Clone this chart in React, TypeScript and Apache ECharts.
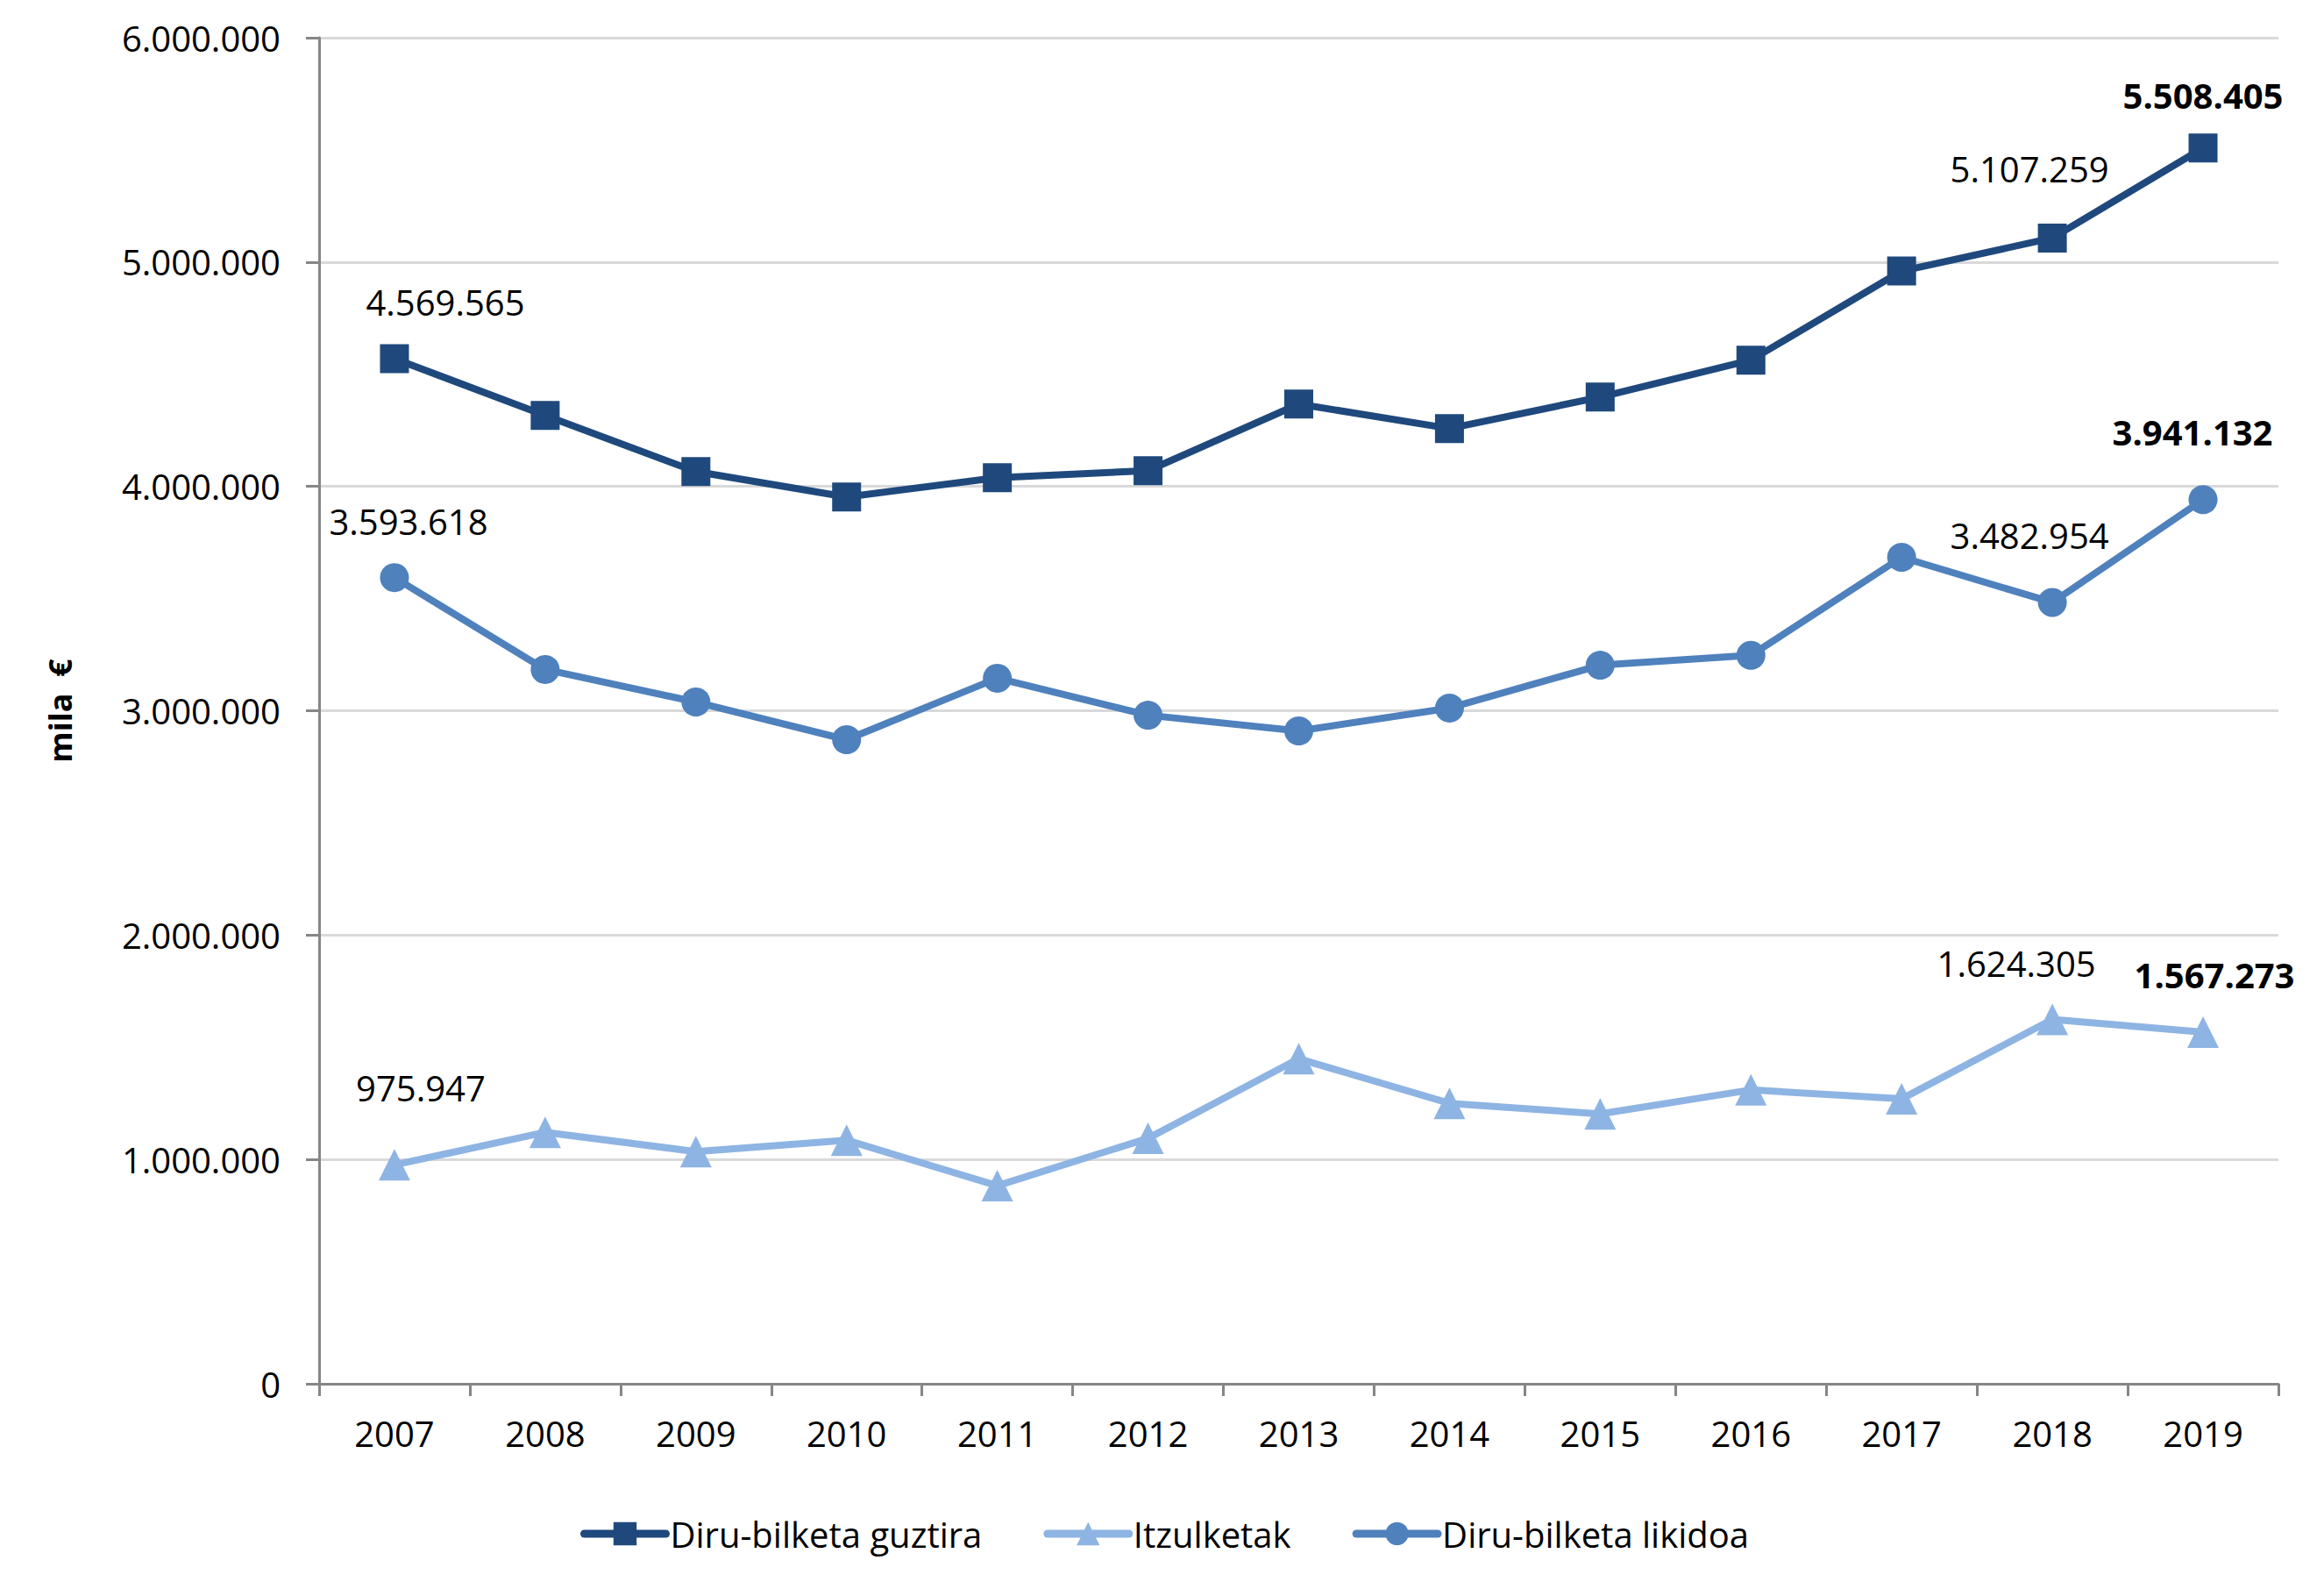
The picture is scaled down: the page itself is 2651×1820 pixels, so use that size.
import React, { useEffect, useRef } from "react";
import * as echarts from "echarts";

const years = ["2007", "2008", "2009", "2010", "2011", "2012", "2013", "2014", "2015", "2016", "2017", "2018", "2019"];
const guztira = [4569565, 4316000, 4066000, 3953000, 4039000, 4070000, 4367000, 4258000, 4398000, 4563000, 4960000, 5107259, 5508405];
const itzulketak = [975947, 1121000, 1035000, 1086000, 883000, 1094000, 1449000, 1250000, 1203000, 1310000, 1270000, 1624305, 1567273];
const likidoa = [3593618, 3184000, 3039000, 2871000, 3145000, 2980000, 2910000, 3012000, 3203000, 3247000, 3684000, 3482954, 3941132];
const seriesNames = ["Diru-bilketa guztira", "Itzulketak", "Diru-bilketa likidoa"];
const yTicks = { min: 0, max: 6000000, interval: 1000000 };

const FONT = "Open Sans";

const fmt = (v: number) => String(Math.round(v)).replace(/\B(?=(\d{3})+(?!\d))/g, ".");

// label styling per series: index -> [dx, dy, bold]
const labelCfg: Record<string, Record<number, [number, number, boolean]>> = {
  guztira: { 0: [58, -64, false], 11: [-26, -79, false], 12: [0, -60, true] },
  itzulketak: { 0: [30, -88, false], 11: [-41, -64, false], 12: [13, -66, true] },
  likidoa: { 0: [16, -64, false], 11: [-26, -76, false], 12: [-12, -77, true] },
};

function buildData(values: number[], key: string) {
  const cfg = labelCfg[key];
  return values.map((v, i) => {
    const c = cfg[i];
    if (!c) return v;
    return {
      value: v,
      label: {
        show: true,
        position: "inside",
        offset: [c[0], c[1]],
        formatter: (p: any) => fmt(p.value),
        color: "#000",
        fontFamily: FONT,
        fontSize: 40,
        fontWeight: c[2] ? "bold" : "normal",
      },
    };
  });
}

export default function App() {
  const ref = useRef<HTMLDivElement>(null);
  useEffect(() => {
    if (!ref.current) return;
    const chart = echarts.init(ref.current, undefined, { renderer: "svg" });
    const lineSeries = (name: string, key: string, values: number[], color: string, symbol: string, size: number) => ({
      name,
      type: "line",
      data: buildData(values, key),
      symbol,
      symbolSize: size,
      lineStyle: { color, width: 8 },
      itemStyle: { color },
      label: { show: false },
      emphasis: { disabled: true },
    });
    chart.setOption({
      animation: false,
      backgroundColor: "#fff",
      textStyle: { fontFamily: FONT },
      grid: { left: 364, top: 43, right: 52, bottom: 242, containLabel: false },
      legend: {
        data: seriesNames,
        left: 657,
        top: 1724,
        itemWidth: 93,
        itemHeight: 33,
        itemGap: 70,
        lineStyle: { width: 9, cap: "round" },
        textStyle: { fontFamily: FONT, fontSize: 40, color: "#000" },
      },
      xAxis: {
        type: "category",
        data: years,
        boundaryGap: true,
        axisLine: { show: true, lineStyle: { color: "#868686", width: 3 } },
        axisTick: { show: true, length: 14, lineStyle: { color: "#868686", width: 3 } },
        axisLabel: { color: "#000", fontFamily: FONT, fontSize: 40, margin: 36 },
        splitLine: { show: false },
      },
      yAxis: {
        type: "value",
        min: yTicks.min,
        max: yTicks.max,
        interval: yTicks.interval,
        name: "mila  €",
        nameLocation: "middle",
        nameGap: 278,
        nameTextStyle: { color: "#000", fontFamily: FONT, fontSize: 36, fontWeight: "bold" },
        axisLine: { show: true, lineStyle: { color: "#868686", width: 3 } },
        axisTick: { show: true, length: 15, lineStyle: { color: "#868686", width: 3 } },
        axisLabel: { color: "#000", fontFamily: FONT, fontSize: 40, margin: 44, formatter: (v: number) => fmt(v) },
        splitLine: { show: true, lineStyle: { color: "#d9d9d9", width: 3 } },
      },
      series: [
        lineSeries(seriesNames[0], "guztira", guztira, "#1F497D", "rect", 33),
        lineSeries(seriesNames[1], "itzulketak", itzulketak, "#8EB4E3", "triangle", 36),
        lineSeries(seriesNames[2], "likidoa", likidoa, "#4F81BD", "circle", 33),
      ],
    });
    return () => chart.dispose();
  }, []);
  return <div ref={ref} style={{ position: "absolute", left: 0, top: 0, width: 2651, height: 1820, background: "#fff" }} />;
}
